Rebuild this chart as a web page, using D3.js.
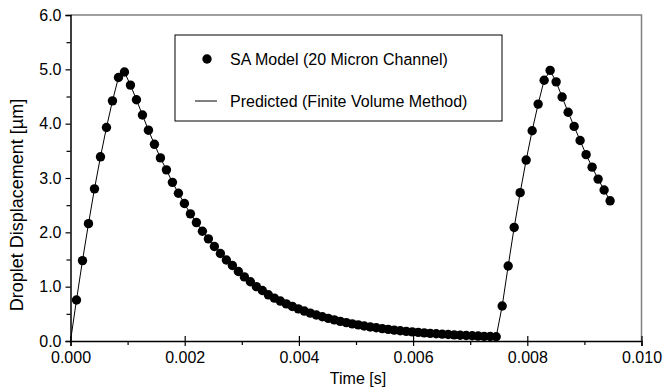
<!DOCTYPE html>
<html><head><meta charset="utf-8">
<script src="https://cdn.jsdelivr.net/npm/d3@7"></script>
<style>
html,body{margin:0;padding:0;background:#fff;}
svg text{font-family:"Liberation Sans",Arial,Helvetica,sans-serif;fill:#000;}
</style></head><body>
<svg id="chart" width="663" height="388"></svg>
<script>
// Time values [s]
const times = [
0.000105,0.000210,0.000315,0.000420,0.000525,0.000630,0.000735,0.000840,0.000945,0.001050,
0.001155,0.001260,0.001365,0.001470,0.001575,0.001680,0.001785,0.001890,0.001995,0.002100,
0.002205,0.002310,0.002415,0.002520,0.002625,0.002730,0.002835,0.002940,0.003045,0.003150,
0.003255,0.003360,0.003465,0.003570,0.003675,0.003780,0.003885,0.003990,0.004095,0.004200,
0.004305,0.004410,0.004515,0.004620,0.004725,0.004830,0.004935,0.005040,0.005145,0.005250,
0.005355,0.005460,0.005565,0.005670,0.005775,0.005880,0.005985,0.006090,0.006195,0.006300,
0.006405,0.006510,0.006615,0.006720,0.006825,0.006930,0.007035,0.007140,0.007245,0.007350,
0.007455,0.007560,0.007665,0.007770,0.007875,0.007980,0.008085,0.008190,0.008295,0.008400,
0.008505,0.008610,0.008715,0.008820,0.008925,0.009030,0.009135,0.009240,0.009345,0.009450];
// SA Model displacement [um]
const saModel = [
0.755,1.48,2.16,2.80,3.39,3.93,4.42,4.85,4.95,4.71,
4.44,4.16,3.88,3.62,3.37,3.15,2.92,2.72,2.53,2.34,
2.18,2.02,1.88,1.74,1.61,1.49,1.39,1.28,1.18,1.09,
1.00,0.93,0.85,0.79,0.735,0.683,0.636,0.592,0.551,0.513,
0.478,0.446,0.416,0.388,0.362,0.338,0.316,0.296,0.277,0.259,
0.243,0.228,0.214,0.201,0.189,0.178,0.168,0.158,0.149,0.141,
0.133,0.126,0.119,0.113,0.107,0.101,0.096,0.091,0.086,0.082,
0.078,0.644,1.38,2.09,2.73,3.33,3.87,4.36,4.80,4.98,
4.77,4.49,4.21,3.95,3.69,3.43,3.20,2.98,2.78,2.58];
// Predicted line (starts at origin, then follows the model points)
const predTimes = [0].concat(times);
const predicted = [0].concat(saModel);
const xTicks = [0,0.002,0.004,0.006,0.008,0.010];
const xMinor = [0.001,0.003,0.005,0.007,0.009];
const yTicks = [0,1,2,3,4,5,6];
const yMinor = [0.5,1.5,2.5,3.5,4.5,5.5];
const legendLabels = ["SA Model (20 Micron Channel)","Predicted (Finite Volume Method)"];

const svg = d3.select("#chart");
const L=70.5, R=641.5, T=15, B=341;
const x = d3.scaleLinear().domain([0,0.010]).range([L,R]);
const y = d3.scaleLinear().domain([0,6]).range([B,T]);

// frame top/right (gray)
svg.append("path").attr("d",`M${L},${T}H${R}V${B}`).attr("fill","none").attr("stroke","#808080").attr("stroke-width",1.5);

// x axis
const xa = svg.append("g").attr("transform",`translate(0,${B})`)
  .call(d3.axisBottom(x).tickValues(xTicks).tickFormat(d3.format(".3f")).tickSize(5).tickPadding(6));
xa.selectAll(".tick line").attr("y1",-5);
xa.selectAll("text").attr("font-size",16);
svg.append("g").attr("transform",`translate(0,${B})`)
  .call(d3.axisBottom(x).tickValues(xMinor).tickFormat("").tickSize(4))
  .select(".domain").remove();
// y axis
const ya = svg.append("g").attr("transform",`translate(${L},0)`)
  .call(d3.axisLeft(y).tickValues(yTicks).tickFormat(d3.format(".1f")).tickSize(5).tickPadding(4));
ya.selectAll("text").attr("font-size",16);
svg.append("g").attr("transform",`translate(${L},0)`)
  .call(d3.axisLeft(y).tickValues(yMinor).tickFormat("").tickSize(4))
  .select(".domain").remove();
svg.selectAll(".domain").attr("stroke","#000").attr("stroke-width",1.5);
svg.selectAll(".tick line").attr("stroke","#000").attr("stroke-width",1.2);

// axis titles
svg.append("text").attr("x",358).attr("y",384).attr("text-anchor","middle").attr("font-size",16).text("Time [s]");
svg.append("text").attr("transform",`translate(23,205) rotate(-90)`).attr("text-anchor","middle").attr("font-size",18).text("Droplet Displacement [µm]");

// predicted line
const line = d3.line().x((d,i)=>x(predTimes[i])).y(d=>y(d));
svg.append("path").datum(predicted).attr("d",line).attr("fill","none").attr("stroke","#000").attr("stroke-width",1);

// SA model points
svg.append("g").selectAll("circle").data(saModel).join("circle")
  .attr("cx",(d,i)=>x(times[i])).attr("cy",d=>y(d)).attr("r",4.7).attr("fill","#000");

// legend
const lg = svg.append("g");
lg.append("rect").attr("x",175).attr("y",35).attr("width",327).attr("height",86).attr("fill","#fff").attr("stroke","#000").attr("stroke-width",1);
lg.append("circle").attr("cx",207).attr("cy",59).attr("r",4.7).attr("fill","#000");
lg.append("line").attr("x1",195).attr("x2",217).attr("y1",101).attr("y2",101).attr("stroke","#000").attr("stroke-width",1);
lg.selectAll("text.lt").data(legendLabels).join("text").attr("class","lt")
  .attr("x",230).attr("y",(d,i)=>i?101:59).attr("dy","0.35em").attr("font-size",16).text(d=>d);
</script>
</body></html>
